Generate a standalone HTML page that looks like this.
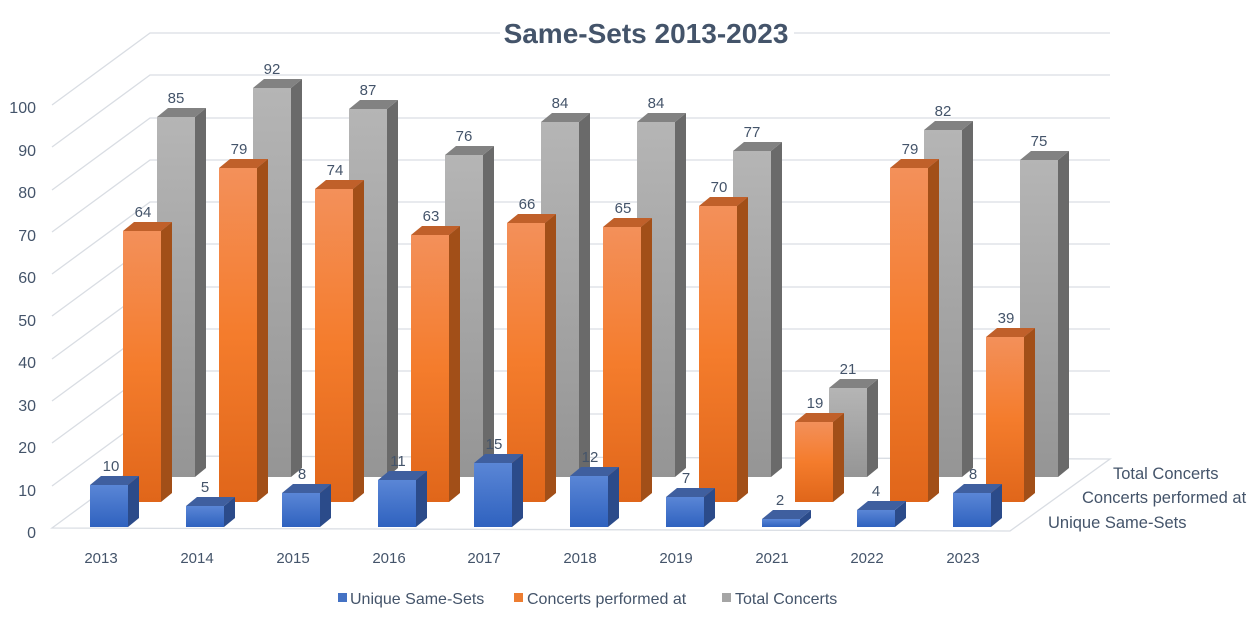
<!DOCTYPE html>
<html><head><meta charset="utf-8"><style>
html,body{margin:0;padding:0;background:#fff}
svg{display:block;font-family:"Liberation Sans",sans-serif}
.bs{fill:#2b4b8a}.bt{fill:#3f5f9f}
.os{fill:#a24f18}.ot{fill:#c0602a}
.gs{fill:#6a6a6a}.gt{fill:#828282}
.lb{font-size:15px;fill:#44546a;text-anchor:middle}
.ax{font-size:15px;fill:#44546a}
.rl{font-size:16.5px;fill:#44546a}
.lg{font-size:16px;fill:#44546a}
</style></head><body>
<svg width="1258" height="618" viewBox="0 0 1258 618" xmlns="http://www.w3.org/2000/svg">
<defs>
<linearGradient id="bf" x1="0" y1="0" x2="0" y2="1"><stop offset="0" stop-color="#5a86d6"/><stop offset="1" stop-color="#2f62bf"/></linearGradient>
<linearGradient id="of" x1="0" y1="0" x2="0" y2="1"><stop offset="0" stop-color="#f3905a"/><stop offset="0.5" stop-color="#f47c2c"/><stop offset="1" stop-color="#e0661a"/></linearGradient>
<linearGradient id="gf" x1="0" y1="0" x2="0" y2="1"><stop offset="0" stop-color="#b5b5b5"/><stop offset="1" stop-color="#959595"/></linearGradient>
</defs>
<g stroke="#d9dde3" stroke-width="1.3" fill="none">
<polygon points="52,528 150,456 1110,459 1010,531"/>
<polyline points="52,486 150,414 1110,414"/>
<polyline points="52,443 150,371 1110,371"/>
<polyline points="52,401 150,329 1110,329"/>
<polyline points="52,359 150,287 1110,287"/>
<polyline points="52,316 150,244 1110,244"/>
<polyline points="52,274 150,202 1110,202"/>
<polyline points="52,232 150,160 1110,160"/>
<polyline points="52,190 150,118 1110,118"/>
<polyline points="52,147 150,75 1110,75"/>
<polyline points="52,105 150,33 1110,33"/>
</g>
<rect x="500" y="16" width="294" height="32" fill="#fff"/>
<text x="646" y="43" text-anchor="middle" style="font-size:28px;font-weight:bold;fill:#44546a">Same-Sets 2013-2023</text>
<g class="ax" text-anchor="end" style="font-size:16px">
<text x="36" y="538">0</text><text x="36" y="496">10</text><text x="36" y="453">20</text><text x="36" y="411">30</text><text x="36" y="368">40</text><text x="36" y="326">50</text><text x="36" y="283">60</text><text x="36" y="241">70</text><text x="36" y="198">80</text><text x="36" y="156">90</text><text x="36" y="113">100</text>
</g>
<!-- gray -->
<g transform="translate(157,477)"><rect y="-360" width="38" height="360" fill="url(#gf)"/><polygon class="gs" points="38,0 49,-9 49,-369 38,-360"/><polygon class="gt" points="0,-360 11,-369 49,-369 38,-360"/></g>
<g transform="translate(253,477)"><rect y="-389" width="38" height="389" fill="url(#gf)"/><polygon class="gs" points="38,0 49,-9 49,-398 38,-389"/><polygon class="gt" points="0,-389 11,-398 49,-398 38,-389"/></g>
<g transform="translate(349,477)"><rect y="-368" width="38" height="368" fill="url(#gf)"/><polygon class="gs" points="38,0 49,-9 49,-377 38,-368"/><polygon class="gt" points="0,-368 11,-377 49,-377 38,-368"/></g>
<g transform="translate(445,477)"><rect y="-322" width="38" height="322" fill="url(#gf)"/><polygon class="gs" points="38,0 49,-9 49,-331 38,-322"/><polygon class="gt" points="0,-322 11,-331 49,-331 38,-322"/></g>
<g transform="translate(541,477)"><rect y="-355" width="38" height="355" fill="url(#gf)"/><polygon class="gs" points="38,0 49,-9 49,-364 38,-355"/><polygon class="gt" points="0,-355 11,-364 49,-364 38,-355"/></g>
<g transform="translate(637,477)"><rect y="-355" width="38" height="355" fill="url(#gf)"/><polygon class="gs" points="38,0 49,-9 49,-364 38,-355"/><polygon class="gt" points="0,-355 11,-364 49,-364 38,-355"/></g>
<g transform="translate(733,477)"><rect y="-326" width="38" height="326" fill="url(#gf)"/><polygon class="gs" points="38,0 49,-9 49,-335 38,-326"/><polygon class="gt" points="0,-326 11,-335 49,-335 38,-326"/></g>
<g transform="translate(829,477)"><rect y="-89" width="38" height="89" fill="url(#gf)"/><polygon class="gs" points="38,0 49,-9 49,-98 38,-89"/><polygon class="gt" points="0,-89 11,-98 49,-98 38,-89"/></g>
<g transform="translate(924,477)"><rect y="-347" width="38" height="347" fill="url(#gf)"/><polygon class="gs" points="38,0 49,-9 49,-356 38,-347"/><polygon class="gt" points="0,-347 11,-356 49,-356 38,-347"/></g>
<g transform="translate(1020,477)"><rect y="-317" width="38" height="317" fill="url(#gf)"/><polygon class="gs" points="38,0 49,-9 49,-326 38,-317"/><polygon class="gt" points="0,-317 11,-326 49,-326 38,-317"/></g>
<!-- orange -->
<g transform="translate(123,502)"><rect y="-271" width="38" height="271" fill="url(#of)"/><polygon class="os" points="38,0 49,-9 49,-280 38,-271"/><polygon class="ot" points="0,-271 11,-280 49,-280 38,-271"/></g>
<g transform="translate(219,502)"><rect y="-334" width="38" height="334" fill="url(#of)"/><polygon class="os" points="38,0 49,-9 49,-343 38,-334"/><polygon class="ot" points="0,-334 11,-343 49,-343 38,-334"/></g>
<g transform="translate(315,502)"><rect y="-313" width="38" height="313" fill="url(#of)"/><polygon class="os" points="38,0 49,-9 49,-322 38,-313"/><polygon class="ot" points="0,-313 11,-322 49,-322 38,-313"/></g>
<g transform="translate(411,502)"><rect y="-267" width="38" height="267" fill="url(#of)"/><polygon class="os" points="38,0 49,-9 49,-276 38,-267"/><polygon class="ot" points="0,-267 11,-276 49,-276 38,-267"/></g>
<g transform="translate(507,502)"><rect y="-279" width="38" height="279" fill="url(#of)"/><polygon class="os" points="38,0 49,-9 49,-288 38,-279"/><polygon class="ot" points="0,-279 11,-288 49,-288 38,-279"/></g>
<g transform="translate(603,502)"><rect y="-275" width="38" height="275" fill="url(#of)"/><polygon class="os" points="38,0 49,-9 49,-284 38,-275"/><polygon class="ot" points="0,-275 11,-284 49,-284 38,-275"/></g>
<g transform="translate(699,502)"><rect y="-296" width="38" height="296" fill="url(#of)"/><polygon class="os" points="38,0 49,-9 49,-305 38,-296"/><polygon class="ot" points="0,-296 11,-305 49,-305 38,-296"/></g>
<g transform="translate(795,502)"><rect y="-80" width="38" height="80" fill="url(#of)"/><polygon class="os" points="38,0 49,-9 49,-89 38,-80"/><polygon class="ot" points="0,-80 11,-89 49,-89 38,-80"/></g>
<g transform="translate(890,502)"><rect y="-334" width="38" height="334" fill="url(#of)"/><polygon class="os" points="38,0 49,-9 49,-343 38,-334"/><polygon class="ot" points="0,-334 11,-343 49,-343 38,-334"/></g>
<g transform="translate(986,502)"><rect y="-165" width="38" height="165" fill="url(#of)"/><polygon class="os" points="38,0 49,-9 49,-174 38,-165"/><polygon class="ot" points="0,-165 11,-174 49,-174 38,-165"/></g>
<!-- blue -->
<g transform="translate(90,527)"><rect y="-42" width="38" height="42" fill="url(#bf)"/><polygon class="bs" points="38,0 49,-9 49,-51 38,-42"/><polygon class="bt" points="0,-42 11,-51 49,-51 38,-42"/></g>
<g transform="translate(186,527)"><rect y="-21" width="38" height="21" fill="url(#bf)"/><polygon class="bs" points="38,0 49,-9 49,-30 38,-21"/><polygon class="bt" points="0,-21 11,-30 49,-30 38,-21"/></g>
<g transform="translate(282,527)"><rect y="-34" width="38" height="34" fill="url(#bf)"/><polygon class="bs" points="38,0 49,-9 49,-43 38,-34"/><polygon class="bt" points="0,-34 11,-43 49,-43 38,-34"/></g>
<g transform="translate(378,527)"><rect y="-47" width="38" height="47" fill="url(#bf)"/><polygon class="bs" points="38,0 49,-9 49,-56 38,-47"/><polygon class="bt" points="0,-47 11,-56 49,-56 38,-47"/></g>
<g transform="translate(474,527)"><rect y="-64" width="38" height="64" fill="url(#bf)"/><polygon class="bs" points="38,0 49,-9 49,-73 38,-64"/><polygon class="bt" points="0,-64 11,-73 49,-73 38,-64"/></g>
<g transform="translate(570,527)"><rect y="-51" width="38" height="51" fill="url(#bf)"/><polygon class="bs" points="38,0 49,-9 49,-60 38,-51"/><polygon class="bt" points="0,-51 11,-60 49,-60 38,-51"/></g>
<g transform="translate(666,527)"><rect y="-30" width="38" height="30" fill="url(#bf)"/><polygon class="bs" points="38,0 49,-9 49,-39 38,-30"/><polygon class="bt" points="0,-30 11,-39 49,-39 38,-30"/></g>
<g transform="translate(762,527)"><rect y="-8" width="38" height="8" fill="url(#bf)"/><polygon class="bs" points="38,0 49,-9 49,-17 38,-8"/><polygon class="bt" points="0,-8 11,-17 49,-17 38,-8"/></g>
<g transform="translate(857,527)"><rect y="-17" width="38" height="17" fill="url(#bf)"/><polygon class="bs" points="38,0 49,-9 49,-26 38,-17"/><polygon class="bt" points="0,-17 11,-26 49,-26 38,-17"/></g>
<g transform="translate(953,527)"><rect y="-34" width="38" height="34" fill="url(#bf)"/><polygon class="bs" points="38,0 49,-9 49,-43 38,-34"/><polygon class="bt" points="0,-34 11,-43 49,-43 38,-34"/></g>
<!-- labels -->
<g class="lb">
<text x="176" y="103">85</text><text x="272" y="74">92</text><text x="368" y="95">87</text><text x="464" y="141">76</text><text x="560" y="108">84</text><text x="656" y="108">84</text><text x="752" y="137">77</text><text x="848" y="374">21</text><text x="943" y="116">82</text><text x="1039" y="146">75</text>
<text x="143" y="217">64</text><text x="239" y="154">79</text><text x="335" y="175">74</text><text x="431" y="221">63</text><text x="527" y="209">66</text><text x="623" y="213">65</text><text x="719" y="192">70</text><text x="815" y="408">19</text><text x="910" y="154">79</text><text x="1006" y="323">39</text>
<text x="111" y="471">10</text><text x="205" y="492">5</text><text x="302" y="479">8</text><text x="398" y="466">11</text><text x="494" y="449">15</text><text x="590" y="462">12</text><text x="686" y="483">7</text><text x="780" y="505">2</text><text x="876" y="496">4</text><text x="973" y="479">8</text>
</g>
<g class="ax" text-anchor="middle">
<text x="101" y="563">2013</text><text x="197" y="563">2014</text><text x="293" y="563">2015</text><text x="389" y="563">2016</text><text x="484" y="563">2017</text><text x="580" y="563">2018</text><text x="676" y="563">2019</text><text x="772" y="563">2021</text><text x="867" y="563">2022</text><text x="963" y="563">2023</text>
</g>
<g class="rl">
<text x="1113" y="479">Total Concerts</text>
<text x="1082" y="503">Concerts performed at</text>
<text x="1048" y="528">Unique Same-Sets</text>
</g>
<rect x="338" y="593" width="9" height="9" fill="#4472c4"/><text class="lg" x="350" y="604">Unique Same-Sets</text>
<rect x="514" y="593" width="9" height="9" fill="#ed7d31"/><text class="lg" x="527" y="604">Concerts performed at</text>
<rect x="722" y="593" width="9" height="9" fill="#a5a5a5"/><text class="lg" x="735" y="604">Total Concerts</text>
</svg>
</body></html>
